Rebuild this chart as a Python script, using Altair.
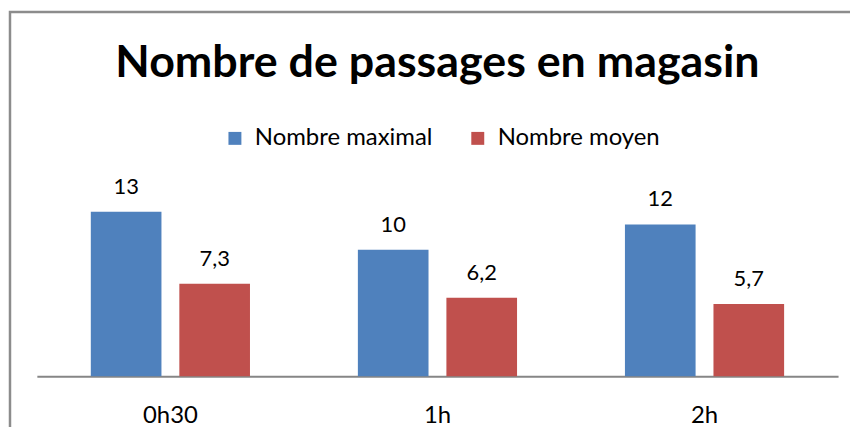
import altair as alt
import pandas as pd

groups = ["0h30", "1h", "2h"]
series = ["Nombre maximal", "Nombre moyen"]
max_values = [13, 10, 12]
mean_values = [7.3, 6.2, 5.7]
colors = ["#4F81BD", "#C0504D"]

rows = []
for g, a, b in zip(groups, max_values, mean_values):
    rows.append({"groupe": g, "serie": series[0], "valeur": a})
    rows.append({"groupe": g, "serie": series[1], "valeur": b})
df = pd.DataFrame(rows)
df["label"] = df["valeur"].map(lambda v: (f"{v:g}").replace(".", ","))

FONT = "Lato"

base = alt.Chart(df).encode(
    x=alt.X("groupe:N", sort=groups, title=None,
            scale=alt.Scale(paddingInner=0.404, paddingOuter=0.202),
            axis=alt.Axis(labelAngle=0, ticks=False, domainColor="#868686",
                          domainWidth=2, labelFontSize=24, labelFont=FONT,
                          labelColor="#000000", labelPadding=27, grid=False)),
    xOffset=alt.XOffset("serie:N", sort=series,
                        scale=alt.Scale(paddingInner=0.202, paddingOuter=0)),
)

bars = base.mark_bar().encode(
    y=alt.Y("valeur:Q", scale=alt.Scale(domain=[0, 14]), axis=None),
    color=alt.Color("serie:N", sort=series,
                    scale=alt.Scale(domain=series, range=colors),
                    legend=alt.Legend(title=None, orient="none", direction="horizontal",
                                      legendX=187, legendY=-73, symbolType="square",
                                      symbolSize=169, symbolStrokeWidth=0,
                                      labelFontSize=24, labelFont=FONT, labelLimit=0,
                                      labelColor="#000000", labelOffset=8,
                                      columnPadding=33, padding=0)),
)

labels = base.mark_text(dy=-18, baseline="alphabetic", fontSize=22, font=FONT,
                        color="#000000").encode(
    y=alt.Y("valeur:Q"),
    text="label:N",
)

border = alt.Chart(pd.DataFrame({"k": [0]})).mark_rect(
    fill=None, stroke="#8C8C8C", strokeWidth=2.5
).encode(
    x=alt.value(-27), x2=alt.value(860), y=alt.value(-188), y2=alt.value(300)
)

chart = alt.layer(border, bars, labels).properties(
    width=805,
    height=178,
    title=alt.TitleParams("Nombre de passages en magasin", fontSize=45,
                          font=FONT, fontWeight="bold", color="#000000",
                          anchor="middle", offset=0, dy=76),
    autosize=alt.AutoSizeParams(type="none"),
    padding={"left": 29, "top": 191, "right": 12, "bottom": 50},
).configure_view(stroke=None)

chart.save("out.html", embed_options={"renderer": "svg", "actions": False})
